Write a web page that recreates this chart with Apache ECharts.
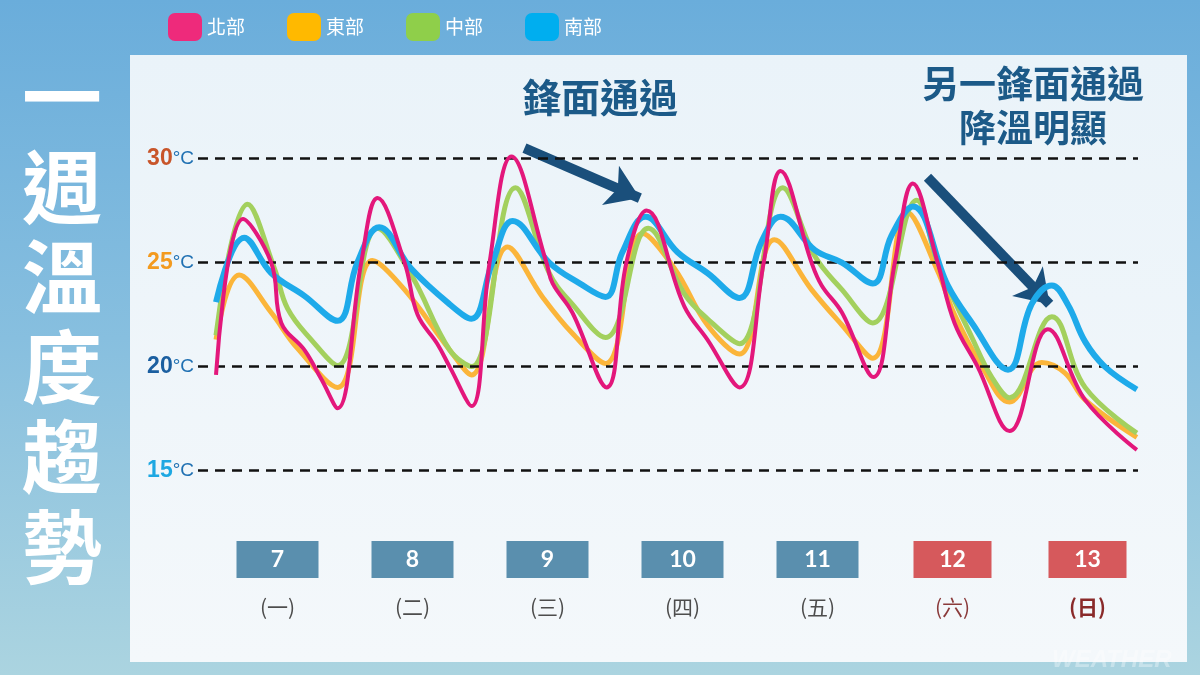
<!DOCTYPE html>
<html><head><meta charset="utf-8">
<script src="https://cdn.jsdelivr.net/npm/echarts@6/dist/echarts.min.js"></script>
<style>html,body{margin:0;padding:0;background:#8cc1dd;}#c{width:1200px;height:675px;}</style>
</head><body><div id="c"></div>
<script>
// ---- data ----
const days = ['7','8','9','10','11','12','13'];
const weekdays = ['(一)','(二)','(三)','(四)','(五)','(六)','(日)'];
const weekend = [false,false,false,false,false,true,true];
const seriesNames = ['北部','東部','中部','南部'];
const refLevels = [30,25,20,15];
// [hours since start of the 7th, °C]
const north = [[1.2,19.6],[6.0,27.1],[11.0,25.0],[12.8,22.1],[16.9,20.8],[19.9,19.4],[22.8,18.0],
  [27.0,25.0],[29.9,28.1],[34.7,25.0],[37.0,22.5],[40.5,21.1],[42.7,20.0],[46.6,18.1],
  [49.8,25.0],[53.7,30.1],[59.9,25.0],[61.0,24.0],[64.5,22.6],[70.6,19.0],
  [74.1,25.0],[77.7,27.5],[84.4,22.9],[88.5,21.3],[94.2,19.0],
  [98.5,25.0],[101.5,29.4],[107.0,25.0],[108.8,23.9],[112.4,22.6],[118.0,19.5],
  [121.8,25.0],[125.0,28.8],[129.4,25.0],[132.4,22.1],[136.5,20.0],[142.2,16.9],
  [149.0,21.8],[155.6,18.4],[164.8,16.0]];
const east = [[1.2,21.3],[5.3,24.4],[11.0,22.6],[15.6,20.9],[22.8,19.0],
  [29.0,25.1],[34.7,23.7],[42.7,20.8],[46.6,19.6],
  [53.0,25.75],[59.2,23.35],[64.5,21.6],[70.4,20.15],
  [77.0,26.4],[82.7,24.7],[88.5,22.0],[94.2,20.6],
  [100.4,26.1],[107.0,23.7],[112.4,22.0],[117.9,20.4],
  [124.1,27.4],[129.4,24.6],[132.4,22.5],[137.2,20.05],[142.2,18.3],
  [147.9,20.2],[152.0,19.7],[155.6,18.4],[164.8,16.6]];
const central = [[1.2,21.5],[6.8,27.8],[11.6,24.7],[13.9,22.8],[18.1,21.3],[22.8,20.05],
  [29.9,26.65],[35.9,24.4],[42.7,20.8],[46.6,20.0],
  [54.4,28.6],[60.4,24.5],[64.5,23.0],[70.4,21.4],
  [78.0,26.65],[84.4,23.5],[88.5,22.3],[94.2,21.1],
  [101.9,28.6],[107.6,25.3],[112.4,23.7],[117.9,22.1],
  [125.7,28.0],[129.4,25.0],[135.5,21.4],[139.0,19.5],[142.2,18.5],
  [149.7,22.4],[155.6,19.0],[164.8,16.8]];
const south = [[1.2,23.1],[6.2,26.2],[11.0,24.5],[16.9,23.4],[22.8,22.2],
  [26.3,25.0],[30.2,26.7],[35.9,24.7],[42.7,23.0],[46.6,22.3],
  [50.3,25.0],[53.9,27.0],[60.4,25.0],[65.8,24.0],[70.4,23.35],
  [73.4,25.5],[77.5,27.2],[83.2,25.5],[88.5,24.5],[94.2,23.3],
  [98.1,26.0],[101.5,27.2],[107.6,25.6],[112.4,25.0],[117.9,24.0],
  [121.2,26.3],[125.0,27.7],[131.2,23.9],[135.5,22.1],[141.9,19.85],
  [146.1,23.0],[149.7,23.9],[152.5,23.0],[155.6,21.2],[159.1,20.0],[164.8,18.9]];
// front arrows: [start [h,°C], end [h,°C]]
const frontArrows = [[[56.0,30.5],[76.5,28.1]],[[127.6,29.1],[149.3,23.0]]];

// ---- styles ----
const lineColors = {北部:'#e3177b', 東部:'#fbb53a', 中部:'#a3d05e', 南部:'#1eaaea'};
const legendColors = {北部:'#ee2a7b', 東部:'#ffb900', 中部:'#8fcf4a', 南部:'#00aeef'};
const lineWidths = {北部:4, 東部:5, 中部:5, 南部:6};
const zOrder = {北部:6, 東部:3, 中部:4, 南部:5};
const dataMap = {北部:north, 東部:east, 中部:central, 南部:south};
const levelRich = {30:'n30', 25:'n25', 20:'n20', 15:'n15'};

const chart = echarts.init(document.getElementById('c'));

const series = seriesNames.map(name => ({
  name, type:'line', data:dataMap[name], xAxisIndex:0, yAxisIndex:0,
  smooth:0.4, showSymbol:false, symbol:'none', z:zOrder[name],
  lineStyle:{color:lineColors[name], width:lineWidths[name]},
  itemStyle:{color:legendColors[name]},
  emphasis:{disabled:true}
}));

// dashed reference lines with temperature labels
series[1].markLine = {
  silent:true, symbol:'none', animation:false,
  lineStyle:{color:'#111', width:2.5, type:[10,7]},
  label:{
    show:true, position:'start', distance:4,
    formatter: p => `{${levelRich[p.value]}|${p.value}}{deg|°C}`,
    rich:{
      n30:{color:'#c8552a', fontSize:23, fontWeight:'bold', fontFamily:'Liberation Sans'},
      n25:{color:'#f39a1f', fontSize:23, fontWeight:'bold', fontFamily:'Liberation Sans'},
      n20:{color:'#1b5fa0', fontSize:23, fontWeight:'bold', fontFamily:'Liberation Sans'},
      n15:{color:'#1ea8e2', fontSize:23, fontWeight:'bold', fontFamily:'Liberation Sans'},
      deg:{color:'#1f70b2', fontSize:19, fontFamily:'Liberation Sans'}
    }
  },
  data: refLevels.map(v => ({yAxis:v}))
};
// front-passage arrows
series[0].markLine = {
  silent:true, animation:false, symbol:['none','arrow'], symbolSize:32,
  lineStyle:{color:'#1a4f7b', width:10, type:'solid'},
  label:{show:false},
  data: frontArrows.map(a => [{coord:a[0]},{coord:a[1]}])
};

const option = {
  animation:false,
  backgroundColor:{type:'linear', x:0, y:0, x2:0, y2:1,
    colorStops:[{offset:0,color:'#6aaddb'},{offset:0.5,color:'#87bfdf'},{offset:1,color:'#abd4e0'}]},
  legend:{
    data:seriesNames, left:163, top:8, itemWidth:34, itemHeight:28, itemGap:42,
    icon:'roundRect', textStyle:{color:'#fff', fontSize:19, fontFamily:'Noto Sans CJK TC'},
    selectedMode:false
  },
  grid:[
    {left:198, right:62, top:117, bottom:142},
    {left:210, right:45, top:100, bottom:140}
  ],
  xAxis:[
    {type:'value', gridIndex:0, min:-2, max:165, show:false},
    {type:'category', gridIndex:1, data:days,
      axisLine:{show:false}, axisTick:{show:false}, splitLine:{show:false},
      axisLabel:{
        margin:6, interval:0,
        formatter:(v, i) => weekend[i]
          ? `{boxR|${v}}\n{${i===6?'wdB':'wdR'}|${weekdays[i]}}`
          : `{box|${v}}\n{wd|${weekdays[i]}}`,
        rich:{
          box:{backgroundColor:'#5a8fae', color:'#fff', width:82, height:37, lineHeight:37,
               align:'center', fontSize:23, fontWeight:'bold', fontFamily:'Lato'},
          boxR:{backgroundColor:'#d6595c', color:'#fff', width:78, height:37, lineHeight:37,
               align:'center', fontSize:23, fontWeight:'bold', fontFamily:'Lato'},
          wd:{color:'#4d4d4d', fontSize:21, lineHeight:58, align:'center', fontFamily:'Noto Sans CJK TC'},
          wdR:{color:'#8a3a3a', fontSize:21, lineHeight:58, align:'center', fontFamily:'Noto Sans CJK TC'},
          wdB:{color:'#8a2a2a', fontSize:21, lineHeight:58, align:'center', fontWeight:'bold', fontFamily:'Noto Sans CJK TC'}
        }
      }}
  ],
  yAxis:[
    {type:'value', gridIndex:0, min:12, max:32, show:false},
    {type:'value', gridIndex:1, show:false}
  ],
  graphic:[
    {type:'rect', z:-10, shape:{x:130, y:55, width:1057, height:607},
      style:{fill:{type:'linear', x:0, y:0, x2:0, y2:1,
        colorStops:[{offset:0,color:'#eaf3f9'},{offset:1,color:'#f4f8fb'}]}}},
    {type:'text', z:-5, left:22, top:52,
      style:{text:'一\n週\n溫\n度\n趨\n勢', fill:'#fff', font:'bold 80px "Noto Sans CJK TC"',
        lineHeight:90, textAlign:'center', shadowBlur:6, shadowColor:'rgba(0,40,80,0.25)'}},
    {type:'text', z:10, left:'center', top:78,
      style:{text:'鋒面通過', fill:'#1c5a88', font:'bold 39px "Noto Sans CJK TC"'}},
    {type:'text', z:10, left:922, top:62,
      style:{text:'另一鋒面通過\n降溫明顯', fill:'#1c5a88', font:'bold 37px "Noto Sans CJK TC"',
        lineHeight:44, textAlign:'center'}},
    {type:'text', z:-5, left:1052, top:648,
      style:{text:'WEATHER', fill:'rgba(255,255,255,0.35)', font:'italic bold 24px "Liberation Sans"'}}
  ],
  series
};
chart.setOption(option);
</script></body></html>
